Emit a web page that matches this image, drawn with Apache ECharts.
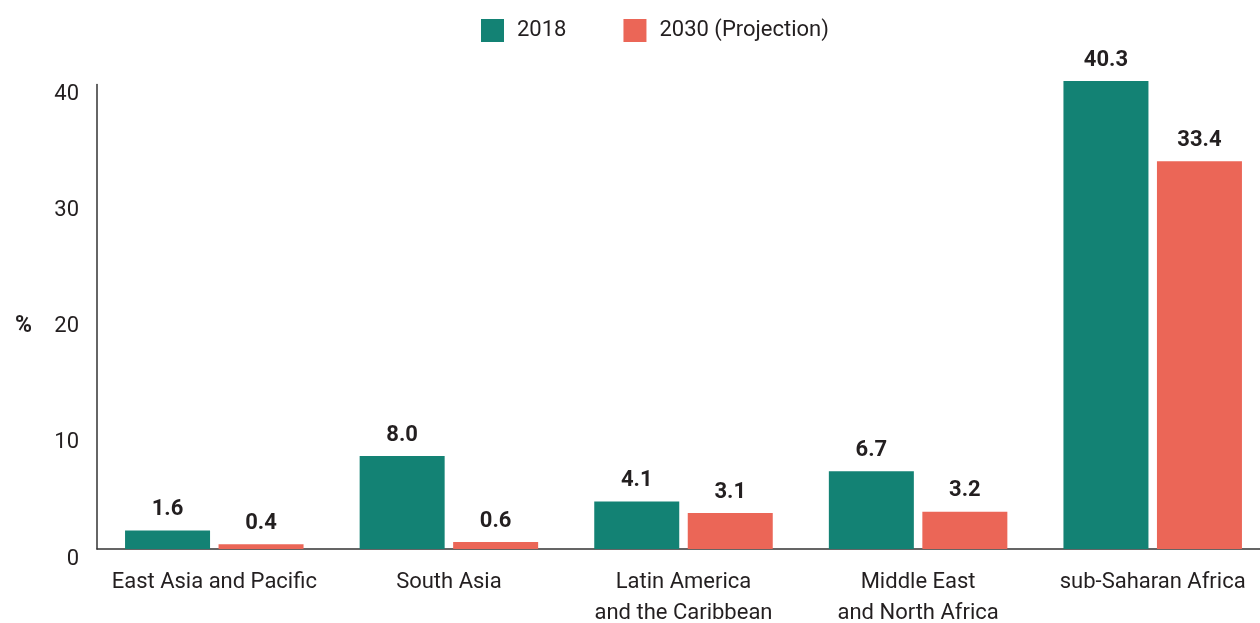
<!DOCTYPE html>
<html>
<head>
<meta charset="utf-8">
<script src="https://cdn.jsdelivr.net/npm/echarts@6/dist/echarts.min.js"></script>
<style>html,body{margin:0;padding:0;background:#fff;overflow:hidden}#c{width:1260px;height:623px}</style>
</head>
<body>
<div id="c"></div>
<script>
var categories = ['East Asia and Pacific', 'South Asia', 'Latin America\nand the Caribbean', 'Middle East\nand North Africa', 'sub-Saharan Africa'];
var values2018 = [1.6, 8.0, 4.1, 6.7, 40.3];
var values2030 = [0.4, 0.6, 3.1, 3.2, 33.4];
var seriesNames = ['2018', '2030 (Projection)'];
var yTicks = [0, 10, 20, 30, 40];

var FONT = "'Roboto', sans-serif";
var chart = echarts.init(document.getElementById('c'));
var labelStyle = {
  show: true, position: 'top', distance: 10,
  fontFamily: FONT, fontSize: 22, fontWeight: 'bold', color: '#231f20',
  formatter: function (p) { return p.value.toFixed(1); }
};
chart.setOption({
  animation: false,
  textStyle: { fontFamily: FONT },
  legend: {
    top: 14, left: 476, itemWidth: 23, itemHeight: 23, itemGap: 57,
    icon: 'rect',
    textStyle: { fontFamily: FONT, fontSize: 22, color: '#231f20', padding: [2, 0, 0, 8] },
    data: seriesNames
  },
  grid: { left: 97, right: -10, top: 84.5, bottom: 74, containLabel: false, outerBoundsMode: 'none' },
  xAxis: {
    type: 'category', data: categories,
    axisLine: { lineStyle: { color: '#333', width: 1.5 } },
    axisTick: { show: false },
    axisLabel: { fontFamily: FONT, fontSize: 22, color: '#231f20', lineHeight: 31, margin: 18, interval: 0 }
  },
  yAxis: {
    type: 'value', min: 0, max: 40, interval: 10,
    name: '%', nameLocation: 'middle', nameRotate: 0, nameGap: 65,
    nameTextStyle: { fontFamily: FONT, fontSize: 23, fontWeight: 'bold', color: '#231f20', verticalAlign: 'top', lineHeight: 18 },
    axisLine: { show: true, lineStyle: { color: '#333', width: 1.5 } },
    axisTick: { show: false },
    splitLine: { show: false },
    axisLabel: {
      fontFamily: FONT, fontSize: 22, color: '#231f20', margin: 18, verticalAlign: 'top', lineHeight: 20,
      formatter: function (v) { return yTicks.indexOf(v) >= 0 ? String(v) : ''; }
    }
  },
  series: [
    { name: seriesNames[0], type: 'bar', data: values2018, barWidth: 85, barGap: '10%', clip: false,
      itemStyle: { color: '#138274' }, label: labelStyle },
    { name: seriesNames[1], type: 'bar', data: values2030, barWidth: 85, clip: false,
      itemStyle: { color: '#EB6657' }, label: labelStyle }
  ]
});
</script>
</body>
</html>
